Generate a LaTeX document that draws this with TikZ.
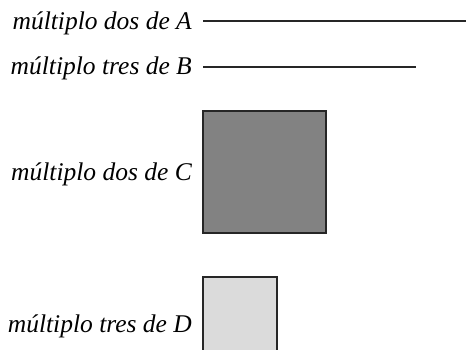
\documentclass[tikz,border=0pt]{standalone}
\usepackage{fontspec}
\setmainfont{Liberation Serif}
\usepackage{tikz}

\tikzset{
  lbl/.style={anchor=base east, inner sep=0pt, font=\fontsize{25.5}{30}\selectfont\itshape},
  bar/.style={line width=1.4pt, black!85},
  box/.style={draw=black!85, line width=1.2pt}
}

\begin{document}
\begin{tikzpicture}[x=1pt,y=-1pt]

\useasboundingbox (0,0) rectangle (466,350);
\clip (0,0) rectangle (466,350);

\coordinate (A) at (203,21);
\coordinate (A2) at (470,21);
\coordinate (B) at (203,67);
\coordinate (B2) at (416,67);
\coordinate (C) at (203,111);
\coordinate (C2) at (326,233);
\coordinate (D) at (203,277);
\coordinate (D2) at (277,351);

\node [lbl] (tA) at (192,30) {múltiplo dos de A};
\node [lbl] (tB) at (192,75) {múltiplo tres de B};
\node [lbl] (tC) at (192,180) {múltiplo dos de C};
\node [lbl] (tD) at (192,332) {múltiplo tres de D};

\draw [bar] (A)--(A2);
\draw [bar] (B)--(B2);
\draw [box, fill=black!49] (C) rectangle (C2);
\draw [box, fill=black!14] (D) rectangle (D2);
\end{tikzpicture}
\end{document}
